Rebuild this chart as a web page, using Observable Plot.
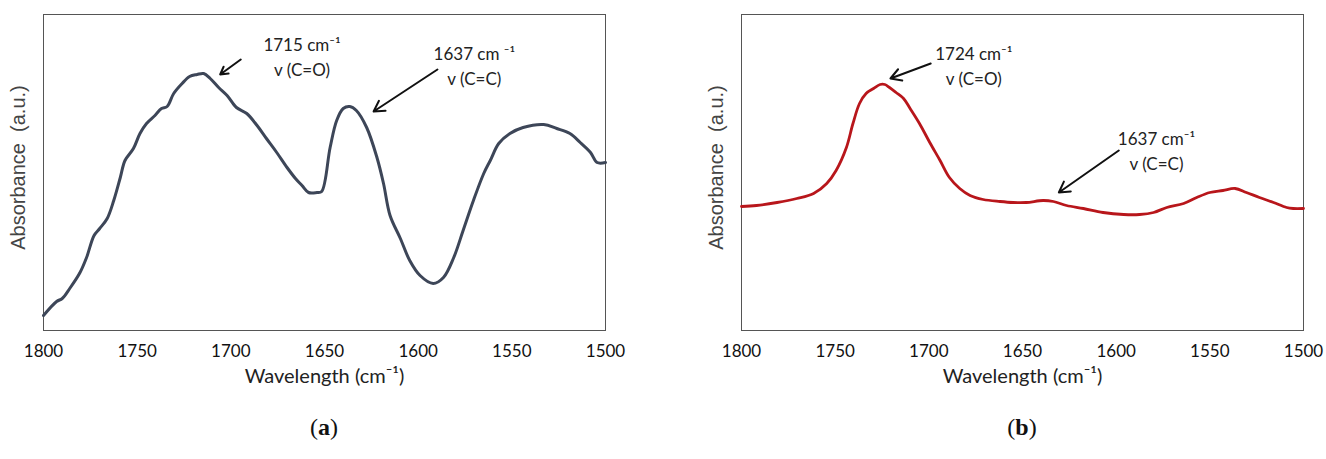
<!DOCTYPE html>
<html><head><meta charset="utf-8">
<script src="https://cdn.jsdelivr.net/npm/d3@7"></script>
<script src="https://cdn.jsdelivr.net/npm/@observablehq/plot@0.6"></script>
<style>
html,body{margin:0;padding:0;background:#fff;}
#wrap{position:relative;width:1326px;height:459px;overflow:hidden;}
.panel{position:absolute;top:0;}
.cap{position:absolute;top:412px;width:100px;text-align:center;font-family:"Liberation Serif","DejaVu Serif",serif;font-size:24px;color:#111;line-height:30px;}
</style></head><body><div id="wrap"></div>
<script>
// Panel (a)
const wavenumbersA = [1800,1793,1790,1786,1780.5,1777,1773,1770,1766,1762.5,1759,1756.5,1752,1748.5,1745,1740.5,1737,1734,1730.5,1726,1722,1718,1714.5,1711,1706.5,1702,1697,1691.5,1686,1681,1675.5,1670,1665.5,1662,1658.5,1654,1651.5,1647,1643.5,1640,1636.5,1633,1627.5,1622,1618.5,1615,1609.5,1604.5,1599,1592,1586.5,1581,1576,1570.5,1565,1561.5,1557,1551,1544,1533,1526,1519,1513.5,1508,1504.5,1500];
const absorbanceA = [0.15,0.29,0.32,0.42,0.58,0.73,0.95,1.02,1.12,1.30,1.53,1.70,1.82,1.97,2.07,2.15,2.22,2.24,2.37,2.47,2.54,2.56,2.57,2.52,2.43,2.35,2.23,2.17,2.05,1.92,1.78,1.63,1.52,1.45,1.38,1.38,1.39,1.83,2.10,2.22,2.24,2.20,2.03,1.73,1.47,1.15,0.92,0.70,0.55,0.47,0.53,0.73,1.00,1.30,1.57,1.70,1.87,1.97,2.03,2.06,2.02,1.97,1.88,1.78,1.68,1.68];
// Panel (b)
const wavenumbersB = [1800,1792,1781,1770.5,1761.5,1754.5,1749.5,1744,1740.5,1737,1733.5,1729.5,1726,1723.5,1721,1717.5,1713.5,1710,1705,1699.5,1694,1689,1683.5,1678,1671,1662,1655,1648,1639,1633.5,1626.5,1617.5,1607,1596,1587.5,1580,1573,1564,1557,1550,1543,1536.5,1530.5,1523.5,1516,1509,1505.5,1500];
const absorbanceB = [1.24,1.25,1.28,1.32,1.37,1.47,1.60,1.83,2.07,2.27,2.37,2.42,2.46,2.46,2.43,2.38,2.32,2.22,2.07,1.88,1.70,1.53,1.42,1.35,1.31,1.29,1.28,1.28,1.30,1.29,1.25,1.22,1.18,1.16,1.16,1.18,1.23,1.27,1.33,1.38,1.40,1.42,1.38,1.33,1.28,1.23,1.22,1.22];

const xTicks = [1800,1750,1700,1650,1600,1550,1500];
const xTitle = "Wavelength (cm⁻¹)";
const yTitle = "Absorbance  (a.u.)";

// Annotations: label positions (wavenumber, absorbance) and arrows
const notesA = [
  {w:1662, a:2.75, label:"1715 cm⁻¹\nv (C=O)"},
  {w:1570, a:2.66, label:"1637 cm ⁻¹\nv (C=C)"}
];
const arrowsA = [
  {w1:1694.7, a1:2.71, w2:1705.7, a2:2.56},
  {w1:1589.7, a1:2.61, w2:1623.8, a2:2.19}
];
const notesB = [
  {w:1676, a:2.66, label:"1724 cm⁻¹\nv (C=O)"},
  {w:1578.5, a:1.81, label:"1637 cm⁻¹\nv (C=C)"}
];
const arrowsB = [
  {w1:1699, a1:2.67, w2:1720.5, a2:2.52},
  {w1:1598.6, a1:1.80, w2:1630.6, a2:1.38}
];

function panel(wn, ab, color, sw, notes, arrows) {
  const data = wn.map((w, i) => ({w, a: ab[i]}));
  return Plot.plot({
    width: 630, height: 395,
    marginLeft: 43, marginRight: 25, marginTop: 14, marginBottom: 65,
    style: {fontFamily: "Lato, 'Open Sans', sans-serif", fontSize: "17px", color: "#111", background: "white", overflow: "visible"},
    x: {domain: [1800, 1500]},
    y: {domain: [0, 3.16], axis: null},
    marks: [
      Plot.frame({stroke: "#555", strokeWidth: 1}),
      Plot.axisX({ticks: xTicks, tickSize: 0, tickPadding: 14, tickFormat: d3.format("d"), label: null, fontSize: 17}),
      Plot.line(data, {x: "w", y: "a", stroke: color, strokeWidth: sw, curve: "catmull-rom"}),
      Plot.arrow(arrows, {x1: "w1", y1: "a1", x2: "w2", y2: "a2", stroke: "#111", strokeWidth: 2, headLength: 9}),
      Plot.text(notes, {x: "w", y: "a", text: "label", fontSize: 17, lineHeight: 1.45, fill: "#222"}),
      Plot.text([xTitle], {text: d => d, frameAnchor: "bottom", dy: 52, fontSize: 20, fill: "#222"}),
      Plot.text([yTitle], {text: d => d, frameAnchor: "left", textAnchor: "middle", rotate: -90, dx: -25, dy: -5, fontSize: 20, fill: "#444", fontFamily: "'Liberation Sans', Arial, sans-serif"})
    ]
  });
}

const wrap = document.getElementById("wrap");
const pa = panel(wavenumbersA, absorbanceA, "#3d4658", 3, notesA, arrowsA);
pa.classList.add("panel"); pa.style.left = "0px";
const pb = panel(wavenumbersB, absorbanceB, "#b8161b", 2.8, notesB, arrowsB);
pb.classList.add("panel"); pb.style.left = "698px";
wrap.appendChild(pa); wrap.appendChild(pb);

const capA = document.createElement("div");
capA.className = "cap"; capA.style.left = (324 - 50) + "px";
capA.innerHTML = "(<b>a</b>)";
const capB = document.createElement("div");
capB.className = "cap"; capB.style.left = (1022 - 50) + "px";
capB.innerHTML = "(<b>b</b>)";
wrap.appendChild(capA); wrap.appendChild(capB);
</script>
</body></html>
